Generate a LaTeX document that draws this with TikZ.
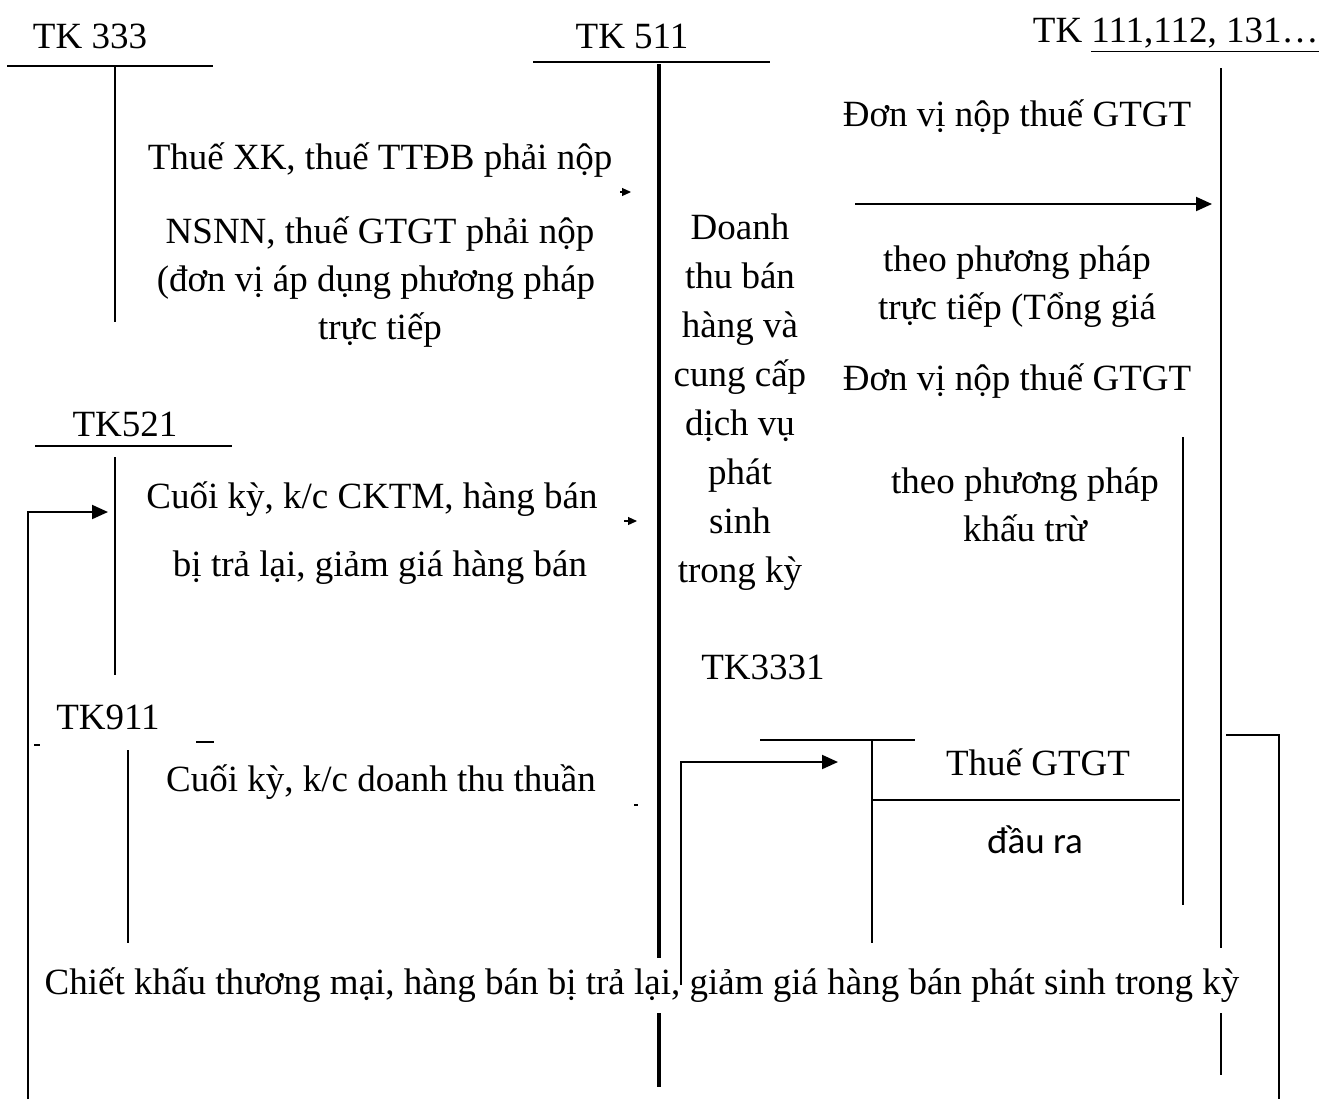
\documentclass[tikz,border=0pt]{standalone}
\usepackage{fontspec}
\setmainfont{Liberation Serif}
\newfontfamily\sansfont{Carlito}
\usetikzlibrary{arrows.meta}

\begin{document}
\begin{tikzpicture}[
  x=0.5pt, y=-0.5pt, >={Triangle[length=8pt, width=7pt]},
  lbl/.style={font=\fontsize{18.5}{24.5}\selectfont, inner sep=0pt, align=center, text height=15pt, text depth=3.5pt},
  col/.style={font=\fontsize{18.5}{24.5}\selectfont, inner sep=0pt, align=center},
  acc/.style={draw, line width=1pt},
  thickacc/.style={draw, line width=2pt},
  line/.style={draw, line width=1pt, ->},
  tip/.style={draw, line width=0.6pt, -{Triangle[length=4.5pt, width=4pt]}}
]
  \useasboundingbox (0,0) rectangle (1322,1099);

  % ==================== ACCOUNT HEADERS ====================
  \node[lbl] (tk333) at (90,37) {TK 333};
  \node[lbl] (tk511) at (632,37) {TK 511};
  \node[lbl, anchor=east] (tk111) at (1319,31) {TK \underline{111,112, 131\dots}};
  \node[lbl] (tk521) at (125,425) {TK521};
  \node[lbl] (tk911) at (108,718) {TK911};
  \node[lbl] (tk3331) at (763,668) {TK3331};

  % ==================== T-ACCOUNTS ====================
  % TK 333
  \draw[acc] (7,66) -- (213,66);
  \draw[acc] (115,66) -- (115,322);
  % TK 511
  \draw[acc] (533,62) -- (770,62);
  \draw[thickacc] (659,64) -- (659,958);
  \draw[thickacc] (659,1013) -- (659,1087);
  % TK 111, 112, 131
  \draw[acc] (1221,68) -- (1221,948);
  \draw[acc] (1221,1013) -- (1221,1075);
  \draw[acc] (1183,437) -- (1183,905);
  % TK521
  \draw[acc] (35,446) -- (232,446);
  \draw[acc] (115,457) -- (115,675);
  % TK911
  \draw[acc] (34,745) -- (40,745);
  \draw[acc] (196,742) -- (214,742);
  \draw[acc] (128,750) -- (128,943);
  % TK3331
  \draw[acc] (760,740) -- (915,740);
  \draw[acc] (872,740) -- (872,943);
  \draw[acc] (872,800) -- (1180,800);
  \draw[acc] (1226,735) -- (1279,735) -- (1279,1099);

  % ==================== LEFT ENTRIES ====================
  \node[lbl] (xk) at (380,158) {Thuế XK, thuế TTĐB phải nộp};
  \node[lbl] (nsnn) at (380,232) {NSNN, thuế GTGT phải nộp};
  \node[lbl] (dvad) at (376,280) {(đơn vị áp dụng phương pháp};
  \node[lbl] (tt) at (380,328) {trực tiếp};
  \node[lbl] (ck1) at (372,497) {Cuối kỳ, k/c CKTM, hàng bán};
  \node[lbl] (ck2) at (380,565) {bị trả lại, giảm giá hàng bán};
  \node[lbl] (dtt) at (381,780) {Cuối kỳ, k/c doanh thu thuần};

  % stray tips beside TK 511
  \coordinate (t1a) at (620,192); \coordinate (t1b) at (631,192);
  \coordinate (t2a) at (624,521); \coordinate (t2b) at (637,521);
  \draw[tip] (t1a) -- (t1b);
  \draw[tip] (t2a) -- (t2b);
  \draw[acc] (634,805) -- (638,805);

  % ==================== CENTRE COLUMN ====================
  \node[col] (dt) at (740,402) {Doanh\\thu bán\\hàng và\\cung cấp\\dịch vụ\\phát\\sinh\\trong kỳ};

  % ==================== RIGHT ENTRIES ====================
  \node[lbl] (dv1) at (1017,115) {Đơn vị nộp thuế GTGT};
  \node[lbl] (pp1) at (1017,260) {theo phương pháp};
  \node[lbl] (tg) at (1017,308) {trực tiếp (Tổng giá};
  \node[lbl] (dv2) at (1017,379) {Đơn vị nộp thuế GTGT};
  \node[lbl] (pp2) at (1025,482) {theo phương pháp};
  \node[lbl] (kt) at (1025,530) {khấu trừ};
  \node[lbl] (gtgt) at (1038,764) {Thuế GTGT};
  \node[lbl, font=\sansfont\fontsize{18.5}{20}\selectfont] (dr) at (1035,842) {đầu ra};

  % ==================== CONNECTORS ====================
  \coordinate (d1s) at (855,204);
  \coordinate (d1e) at (1212,204);
  \draw[line] (d1s) -- (d1e);

  \coordinate (k911a) at (28,1099);
  \coordinate (k521in) at (108,512);
  \draw[line] (k911a) |- (k521in);

  \coordinate (k511a) at (681,985);
  \coordinate (k3331in) at (838,762);
  \draw[line] (k511a) |- (k3331in);

  % Bottom entry
  \node[lbl] (ckbot) at (642,983) {Chiết khấu thương mại, hàng bán bị trả lại, giảm giá hàng bán phát sinh trong kỳ};

\end{tikzpicture}
\end{document}
